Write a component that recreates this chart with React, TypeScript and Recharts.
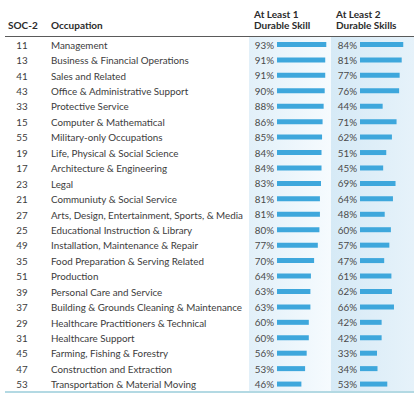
import { BarChart, Bar, XAxis, YAxis, LabelList } from 'recharts';

// SOC-2 codes, occupation names and share of postings (%)
const socCodes = ['11', '13', '41', '43', '33', '15', '55', '19', '17', '23', '21', '27', '25', '49', '35', '51', '39', '37', '29', '31', '45', '47', '53'];
const occupations = [
    'Management',
    'Business & Financial Operations',
    'Sales and Related',
    'Office & Administrative Support',
    'Protective Service',
    'Computer & Mathematical',
    'Military-only Occupations',
    'Life, Physical & Social Science',
    'Architecture & Engineering',
    'Legal',
    'Communiuty & Social Service',
    'Arts, Design, Entertainment, Sports, & Media',
    'Educational Instruction & Library',
    'Installation, Maintenance & Repair',
    'Food Preparation & Serving Related',
    'Production',
    'Personal Care and Service',
    'Building & Grounds Cleaning & Maintenance',
    'Healthcare Practitioners & Technical',
    'Healthcare Support',
    'Farming, Fishing & Forestry',
    'Construction and Extraction',
    'Transportation & Material Moving',
];
const atLeastOne = [93, 91, 91, 90, 88, 86, 85, 84, 84, 83, 81, 81, 80, 77, 70, 64, 63, 63, 60, 60, 56, 53, 46];
const atLeastTwo = [84, 81, 77, 76, 44, 71, 62, 51, 45, 69, 64, 48, 60, 57, 47, 61, 62, 66, 42, 42, 33, 34, 53];

const headers = ['SOC-2', 'Occupation', 'At Least 1', 'Durable Skill', 'At Least 2', 'Durable Skills'];

const data = occupations.map((occ, i) => ({ occ, soc: socCodes[i], one: atLeastOne[i], two: atLeastTwo[i] }));

const FONT = 'Lato, "Open Sans", sans-serif';
const BAR_COLOR = '#3ea7dc';

// 왼쪽 표 부분: SOC 코드 + 직업명
function RowTick(props: any) {
    const { y, payload, index } = props;
    return (
        <g>
            <text x={22} y={y} textAnchor="middle" dominantBaseline="central" fontSize={9.8} fill="#3c3c3c" fontFamily={FONT}>
                {socCodes[index]}
            </text>
            <text x={51} y={y} dominantBaseline="central" fontSize={9.8} fill="#3c3c3c" fontFamily={FONT}>
                {payload.value}
            </text>
        </g>
    );
}

// 막대 왼쪽 퍼센트 텍스트
function PctLabel(props: any) {
    const { x, y, height, value } = props;
    return (
        <text x={x - 3} y={y + height / 2} textAnchor="end" dominantBaseline="central" fontSize={9.8} fill="#4a4a4a" fontFamily={FONT}>
            {value}%
        </text>
    );
}

export default function App() {
    const headStyle = { position: 'absolute' as const, fontFamily: FONT, fontWeight: 700, fontSize: 10, color: '#2b2b2b', lineHeight: '11px' };
    return (
        <div style={{ position: 'absolute', left: 0, top: 0, width: 419, height: 400, background: '#fff', overflow: 'hidden' }}>
            {/* column backgrounds */}
            <div style={{ position: 'absolute', left: 249, top: 37, width: 82, height: 355, background: 'linear-gradient(to right, #e2f0f9, #f6fbfe)' }} />
            <div style={{ position: 'absolute', left: 331, top: 37, width: 83, height: 355, background: 'linear-gradient(to right, #d6eaf6, #e6f2fa)' }} />

            {/* header */}
            <div style={{ ...headStyle, left: 8, top: 20 }}>{headers[0]}</div>
            <div style={{ ...headStyle, left: 51, top: 20 }}>{headers[1]}</div>
            <div style={{ ...headStyle, left: 254, top: 9 }}>{headers[2]}<br />{headers[3]}</div>
            <div style={{ ...headStyle, left: 336, top: 9 }}>{headers[4]}<br />{headers[5]}</div>
            <div style={{ position: 'absolute', left: 5, top: 36, width: 409, height: 1, background: '#5a5a5a' }} />
            <div style={{ position: 'absolute', left: 5, top: 391, width: 409, height: 2, background: '#b3d9e3' }} />

            <div style={{ position: 'absolute', left: 0, top: 0 }}>
                <BarChart layout="vertical" width={419} height={400} data={data} margin={{ top: 37, right: 7, bottom: 8, left: 0 }} barCategoryGap={0} barGap={-5}>
                    {/* 두 열을 같은 영역에 두고 도메인으로 위치를 나눔 */}
                    <XAxis xAxisId="one" type="number" domain={[0, 254.7]} allowDataOverflow hide />
                    <XAxis xAxisId="two" type="number" domain={[-161.2, 101]} allowDataOverflow hide />
                    <YAxis type="category" dataKey="occ" width={277} axisLine={false} tickLine={false} tick={<RowTick />} interval={0} />
                    <Bar xAxisId="one" dataKey="one" fill={BAR_COLOR} barSize={5} isAnimationActive={false}>
                        <LabelList dataKey="one" content={<PctLabel />} />
                    </Bar>
                    <Bar xAxisId="two" dataKey="two" fill={BAR_COLOR} barSize={5} isAnimationActive={false}>
                        <LabelList dataKey="two" content={<PctLabel />} />
                    </Bar>
                </BarChart>
            </div>
        </div>
    );
}
